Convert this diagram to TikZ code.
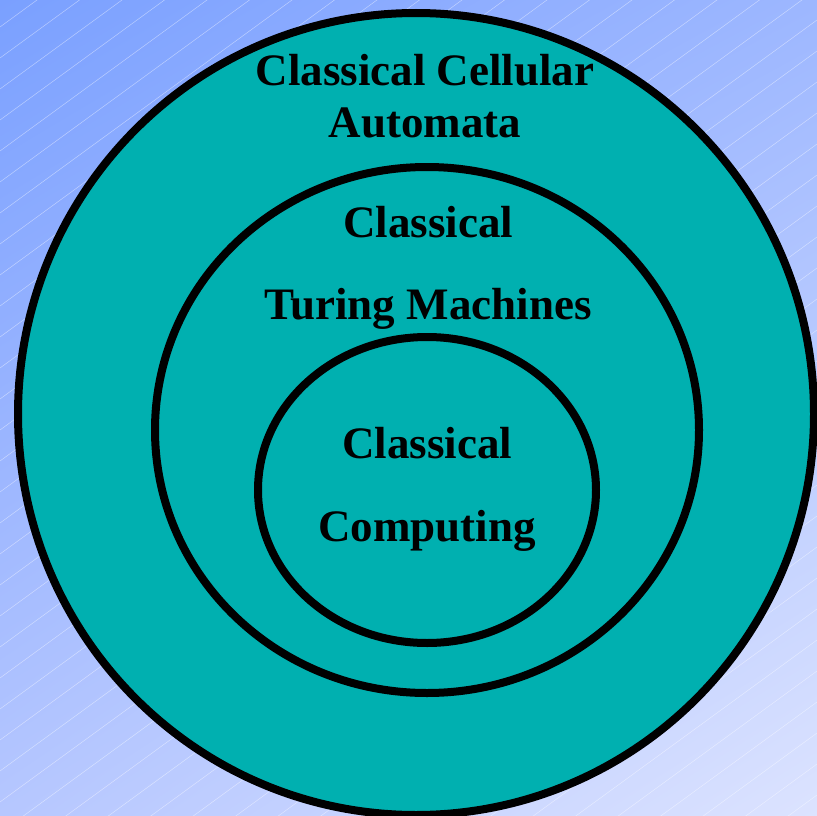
\documentclass[tikz,border=0pt]{standalone}
\usepackage{fontspec}
\setmainfont{Liberation Serif}
\usetikzlibrary{shadings}
\begin{document}
\begin{tikzpicture}[x=1pt,y=-1pt,
  ring/.style={draw=black,line width=8pt,fill=teal0},
  label/.style={font=\fontsize{45}{45}\selectfont\bfseries,inner sep=0pt,anchor=base}]
\definecolor{teal0}{RGB}{0,176,176}
\definecolor{bgTL}{RGB}{122,160,255}
\definecolor{bgTR}{RGB}{157,183,255}
\definecolor{bgBL}{RGB}{182,199,255}
\definecolor{bgBR}{RGB}{220,227,255}
\useasboundingbox (0,0) rectangle (817,816);
% background: four-corner shading with faint diagonal hatching
\shade[upper left=bgTL,upper right=bgTR,lower left=bgBL,lower right=bgBR]
  (0,0) rectangle (817,816);
\begin{scope}
  \clip (0,0) rectangle (817,816);
  \foreach \k in {-1,...,46}{
    \pgfmathsetmacro{\c}{27+31*\k}
    \draw[white,opacity=0.45,line width=0.5pt] (0,\c) -- (817,\c-596);
  }
\end{scope}
% nested regions
\draw[ring] (416,414) ellipse [x radius=398,y radius=401];
\draw[ring] (427,430) ellipse [x radius=272,y radius=263];
\draw[ring] (427,490) ellipse [x radius=169,y radius=153];
% labels
\node[label] (ca1) at (425,85) {Classical Cellular};
\node[label] (ca2) at (425,137) {Automata};
\node[label] (tm1) at (428,237) {Classical};
\node[label] (tm2) at (428,319) {Turing Machines};
\node[label] (cc1) at (427,458) {Classical};
\node[label] (cc2) at (427,541) {Computing};
\end{tikzpicture}
\end{document}
